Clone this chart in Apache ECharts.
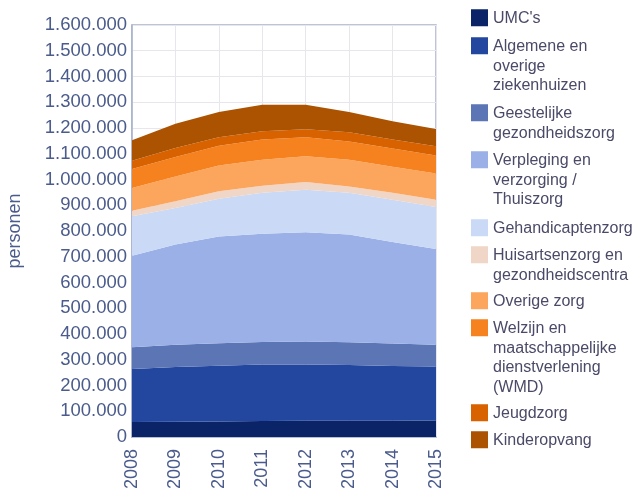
<!DOCTYPE html>
<html>
<head>
<meta charset="utf-8">
<script src="https://cdn.jsdelivr.net/npm/echarts@6/dist/echarts.min.js"></script>
<style>
html,body{margin:0;padding:0;background:#fff;}
#chart{width:639px;height:492px;}
</style>
</head>
<body>
<div id="chart"></div>
<script>
const years = ['2008','2009','2010','2011','2012','2013','2014','2015'];
const yTicks = [0,100000,200000,300000,400000,500000,600000,700000,800000,900000,1000000,1100000,1200000,1300000,1400000,1500000,1600000];

const seriesNames = ["UMC's","Algemene en overige ziekenhuizen","Geestelijke gezondheidszorg","Verpleging en verzorging / Thuiszorg","Gehandicaptenzorg","Huisartsenzorg en gezondheidscentra","Overige zorg","Welzijn en maatschappelijke dienstverlening (WMD)","Jeugdzorg","Kinderopvang"];
const legendLabels = ["UMC's","Algemene en\noverige\nziekenhuizen","Geestelijke\ngezondheidszorg","Verpleging en\nverzorging /\nThuiszorg","Gehandicaptenzorg","Huisartsenzorg en\ngezondheidscentra","Overige zorg","Welzijn en\nmaatschappelijke\ndienstverlening\n(WMD)","Jeugdzorg","Kinderopvang"];

const umc          = [58000, 59000, 60000, 62000, 63000, 63000, 63000, 64000];
const algemene     = [206000, 213000, 217000, 219000, 218000, 216000, 213000, 210000];
const geestelijke  = [84000, 86000, 87000, 88000, 90000, 89000, 87000, 84000];
const verpleging   = [356000, 389000, 415000, 420000, 424000, 418000, 394000, 372000];
const gehandicapt  = [153000, 142000, 146000, 159000, 165000, 162000, 164000, 163000];
const huisarts     = [22000, 26000, 29000, 28000, 30000, 25000, 27000, 28000];
const overige      = [88000, 97000, 100000, 101000, 100000, 104000, 101000, 102000];
const welzijn      = [74000, 75000, 77000, 78000, 74000, 71000, 71000, 70000];
const jeugdzorg    = [32000, 35000, 33000, 32000, 31000, 35000, 35000, 36000];
const kinderopvang = [79000, 94000, 98000, 103000, 95000, 79000, 71000, 67000];

const seriesValues = [umc, algemene, geestelijke, verpleging, gehandicapt, huisarts, overige, welzijn, jeugdzorg, kinderopvang];
const colors = ['#0b2468','#23479e','#5b75b5','#9bb0e6','#c9d9f6','#f0d6c6','#fca55c','#f5821f','#d86200','#ab5300'];

const FONT = "'Liberation Sans', Arial, sans-serif";
const LH = 19.4;
const SQ = 17;
const legendCenters = [19, 47, 114, 161, 229, 256, 302, 329, 414, 441];

function fmt(v){
  return String(v).replace(/\B(?=(\d{3})+(?!\d))/g, '.');
}

const legends = seriesNames.map((name, i) => {
  const n = legendLabels[i].split('\n').length;
  const H = n * LH;
  // square at the top of a tall (mostly empty) icon box so it aligns with the first text line
  const iconPath = 'path://M0,0H' + SQ + 'V' + SQ + 'H0Z M0,' + H.toFixed(2) + 'h0.01v-0.01h-0.01Z';
  return {
    data: [name],
    left: 471,
    top: legendCenters[i] - LH/2,
    orient: 'vertical',
    icon: iconPath,
    itemWidth: SQ,
    itemHeight: H,
    itemGap: 0,
    padding: 0,
    formatter: () => legendLabels[i],
    textStyle: {
      fontFamily: FONT,
      fontSize: 16,
      lineHeight: LH,
      color: '#4a4a68'
    }
  };
});

const chart = echarts.init(document.getElementById('chart'), null, {renderer:'canvas'});
chart.setOption({
  backgroundColor: '#fff',
  animation: false,
  color: colors,
  legend: legends,
  grid: {
    left: 132, right: 203, top: 25, bottom: 55,
    show: true, borderColor: '#a9b1cc', borderWidth: 1.5, backgroundColor: 'transparent'
  },
  xAxis: {
    type: 'category',
    data: years,
    boundaryGap: false,
    axisLine: {show: true, lineStyle: {color: '#a9b1cc', width: 1.5}},
    axisTick: {show: false},
    splitLine: {show: true, lineStyle: {color: '#e6e6ec', width: 1}},
    axisLabel: {rotate: 90, margin: 12, fontFamily: FONT, fontSize: 18, color: '#4a5b8c'}
  },
  yAxis: {
    type: 'value',
    min: yTicks[0],
    max: yTicks[yTicks.length-1],
    interval: yTicks[1]-yTicks[0],
    name: 'personen',
    nameLocation: 'middle',
    nameGap: 108,
    nameTextStyle: {fontFamily: FONT, fontSize: 18, color: '#4a5b8c'},
    axisLine: {show: true, lineStyle: {color: '#a9b1cc', width: 1.5}},
    axisTick: {show: false},
    splitLine: {show: true, lineStyle: {color: '#e6e6ec', width: 1}},
    axisLabel: {margin: 5, fontFamily: FONT, fontSize: 18.5, color: '#4a5b8c', formatter: v => fmt(v)}
  },
  series: seriesNames.map((name, i) => ({
    name: name,
    type: 'line',
    stack: 'total',
    data: seriesValues[i],
    symbol: 'none',
    showSymbol: false,
    lineStyle: {width: 0},
    areaStyle: {color: colors[i], opacity: 1},
    itemStyle: {color: colors[i]},
    emphasis: {disabled: true}
  }))
});
</script>
</body>
</html>
